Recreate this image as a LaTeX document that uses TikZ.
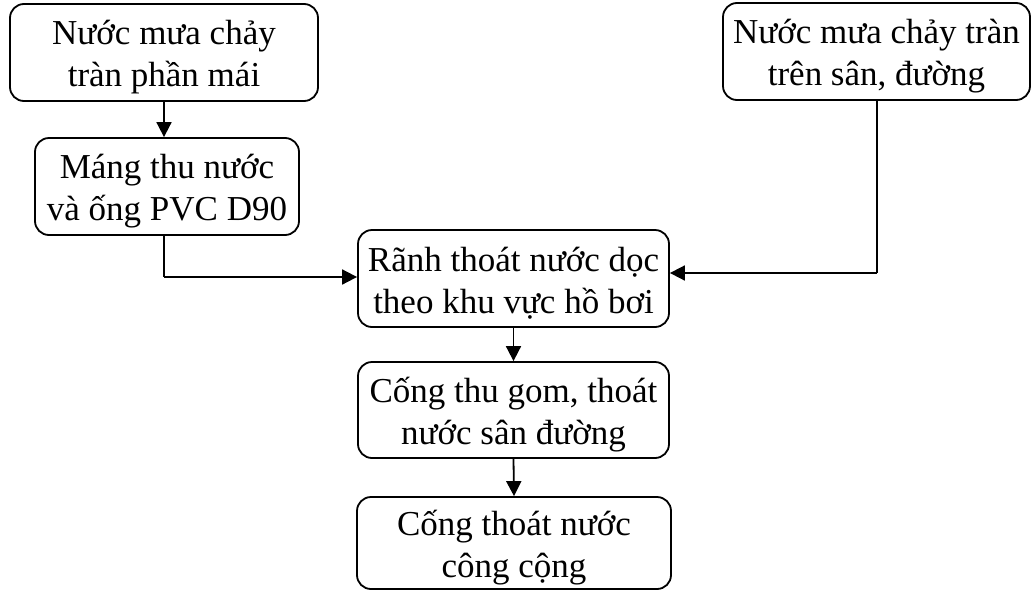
\documentclass[tikz,border=0pt]{standalone}
\usepackage{fontspec}
\setmainfont{Liberation Serif}
\usetikzlibrary{arrows.meta}
\begin{document}
\begin{tikzpicture}[x=1pt,y=-1pt,
  flowbox/.style={draw, line width=1.8pt, rounded corners=14pt, inner sep=0pt},
  boxtext/.style={align=center, inner sep=0pt, yshift=-5pt,
    font=\fontsize{35}{42}\selectfont},
  flow/.style={line width=1.8pt, -{Triangle[length=15pt,width=15pt]}},
  link/.style={line width=1.8pt}]
\useasboundingbox (0,0) rectangle (1031,592);

\node[flowbox, minimum width=308pt, minimum height=97pt,
  label={[boxtext]center:Nước mưa chảy\\tràn phần mái}] (roof) at (164,52.5) {};
\node[flowbox, minimum width=264pt, minimum height=97pt,
  label={[boxtext]center:Máng thu nước\\và ống PVC D90}] (gutter) at (167,186.5) {};
\node[flowbox, minimum width=307pt, minimum height=97pt,
  label={[boxtext]center:Nước mưa chảy tràn\\trên sân, đường}] (yard) at (876.5,51.5) {};
\node[flowbox, minimum width=311pt, minimum height=97pt,
  label={[boxtext]center:Rãnh thoát nước dọc\\theo khu vực hồ bơi}] (trench) at (513.5,278.5) {};
\node[flowbox, minimum width=311pt, minimum height=96pt,
  label={[boxtext]center:Cống thu gom, thoát\\nước sân đường}] (drain) at (513.5,410) {};
\node[flowbox, minimum width=314pt, minimum height=92pt,
  label={[boxtext]center:Cống thoát nước\\công cộng}] (sewer) at (514,543) {};

\coordinate (gturn) at (164,277);
\coordinate (yturn) at (877,273);

\draw[flow] (roof.south) -- (gutter.north -| roof.south);
\draw[link] (gutter.south -| gturn) -- (gturn);
\draw[flow] (gturn) -- (trench.west |- gturn);
\draw[link] (yard.south -| yturn) -- (yturn);
\draw[flow] (yturn) -- (trench.east |- yturn);
\draw[flow] (trench.south) -- (drain.north);
\draw[flow] (drain.south) -- (sewer.north);
\end{tikzpicture}
\end{document}
